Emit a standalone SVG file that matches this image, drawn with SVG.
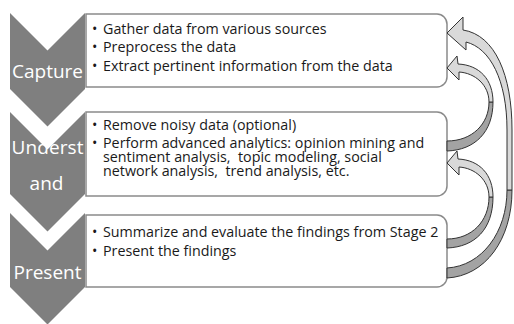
<svg xmlns="http://www.w3.org/2000/svg" width="514" height="324" viewBox="0 0 514 324">
<style>
.chev{fill:#7f7f7f}
.lbl{font-family:"Open Sans","Liberation Sans",sans-serif;font-size:19px;fill:#fff;text-anchor:middle}
.box{fill:#fff;stroke:#8a8a8a;stroke-width:1.5}
.body{font-family:"Open Sans","Liberation Sans",sans-serif;font-size:14.3px;fill:#1a1a1a;white-space:pre}
.dark{fill:#a3a3a3;stroke:#333;stroke-width:1;stroke-linejoin:round}
.light{fill:#d9d9d9;stroke:#333;stroke-width:1;stroke-linejoin:round}
</style>
<g id="capture">
<path class="chev" d="M10,13 L47.5,50.5 L85,13 L85,89 L47.5,126.5 L10,89 Z"/>
<text class="lbl" x="47.5" y="78">Capture</text>
<path class="box" d="M86,14 H437 A10,10 0 0 1 447,24 V77 A10,10 0 0 1 437,87 H86 Z"/>
<text class="body" y="33.5"><tspan x="92">•</tspan><tspan x="103">Gather data from various sources</tspan></text>
<text class="body" y="52"><tspan x="92">•</tspan><tspan x="103">Preprocess the data</tspan></text>
<text class="body" y="70.5"><tspan x="92">•</tspan><tspan x="103">Extract pertinent information from the data</tspan></text>
</g>
<g id="understand">
<path class="chev" d="M10,112 L47.5,149.5 L85,112 L85,194 L47.5,231.5 L10,194 Z"/>
<text class="lbl" x="47.5" y="154" textLength="72">Underst</text>
<text class="lbl" x="46.5" y="190">and</text>
<path class="box" d="M86,112 H437 A10,10 0 0 1 447,122 V186 A10,10 0 0 1 437,196 H86 Z"/>
<text class="body" y="130"><tspan x="92">•</tspan><tspan x="103">Remove noisy data (optional)</tspan></text>
<text class="body" y="147.5"><tspan x="92">•</tspan><tspan x="103">Perform advanced analytics: opinion mining and</tspan></text>
<text class="body" y="161.5"><tspan x="103">sentiment analysis,  topic modeling, social</tspan></text>
<text class="body" y="175.5"><tspan x="103">network analysis,  trend analysis, etc.</tspan></text>
</g>
<g id="present">
<path class="chev" d="M10,213 L47.5,250.5 L85,213 L85,287 L47.5,324.5 L10,287 Z"/>
<text class="lbl" x="47.5" y="279">Present</text>
<path class="box" d="M86,215 H437 A10,10 0 0 1 447,225 V277 A10,10 0 0 1 437,287 H86 Z"/>
<text class="body" y="237"><tspan x="92">•</tspan><tspan x="103">Summarize and evaluate the findings from Stage 2</tspan></text>
<text class="body" y="255.5"><tspan x="92">•</tspan><tspan x="103">Present the findings</tspan></text>
</g>
<g id="connectors">
<g id="arrow-understand-capture">
<path class="dark" d="M447,151 C475,150 493,132 493,102 L489,102 C489,124 472,141 447,141 Z"/>
<path class="light" d="M493,102 C493,80 480,65 458,64 L457,56 L447,68 L459,80 L459,72 C475,73 489,85 489,102 Z"/>
</g>
<g id="arrow-present-understand">
<path class="dark" d="M447,248 C475,247 493,229 493,197 L489,197 C489,221 472,239 447,239 Z"/>
<path class="light" d="M493,197 C493,175 480,160 458,159 L457,151 L447,163 L459,175 L459,167 C475,168 489,180 489,197 Z"/>
</g>
<g id="arrow-present-capture">
<path class="dark" d="M447,278 C485,276 512,240 512,190 L507,190 C507,232 482,266 447,268 Z"/>
<path class="light" d="M512,190 L512,130 C512,75 495,35 463,30 L463,17 L447,33 L466,50 L466,42 C490,48 507,80 507,130 L507,190 Z"/>
</g>
</g>
</svg>
